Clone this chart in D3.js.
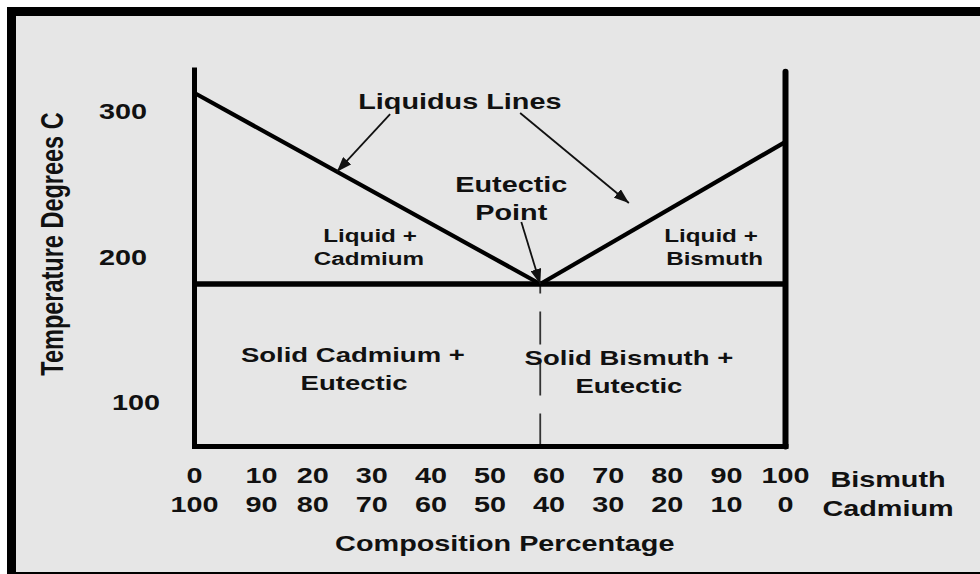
<!DOCTYPE html>
<html>
<head>
<meta charset="utf-8">
<script src="https://cdn.jsdelivr.net/npm/d3@7"></script>
<style>
  html, body { margin: 0; padding: 0; background: #fff; }
  svg { display: block; }
  text { font-family: "Liberation Sans", Arial, sans-serif; font-weight: bold; fill: #111; }
</style>
</head>
<body>
<svg id="chart"></svg>
<script>
// Composition ticks (percent)
var bismuthTicks = [0, 10, 20, 30, 40, 50, 60, 70, 80, 90, 100];
var cadmiumTicks = [100, 90, 80, 70, 60, 50, 40, 30, 20, 10, 0];
var tempTicks = [100, 200, 300];

// Phase diagram, [bismuth %, temperature C]
var eutectic = [58.5, 181.5];
var liquidusLeft = [[0, 312.5], eutectic];
var liquidusRight = [eutectic, [100, 279]];
var wallTops = [330, 327];   // left / right wall tops
var tempMin = 70;

var width = 980,
    height = 574,
    SX = 1.31;   // the original text is stretched sideways

var svg = d3.select("#chart")
    .attr("width", width)
    .attr("height", height);

var x = d3.scaleLinear().domain([0, 100]).range([194.5, 785.5]);
var y = d3.scaleLinear().domain([tempMin, 330]).range([446.5, 67.5]);

// marker for the arrows
svg.append("defs").append("marker")
    .attr("id", "head")
    .attr("viewBox", "0 0 10 10")
    .attr("refX", 10).attr("refY", 5)
    .attr("markerWidth", 15).attr("markerHeight", 11)
    .attr("markerUnits", "userSpaceOnUse")
    .attr("preserveAspectRatio", "none")
    .attr("orient", "auto")
    .append("path")
    .attr("d", "M0,0L10,5L0,10Z")
    .attr("fill", "#111");

// grey panel with thick black frame
svg.append("rect")
    .attr("x", 11.5).attr("y", 11.5)
    .attr("width", 1000).attr("height", 565)
    .attr("fill", "#e6e6e6")
    .attr("stroke", "#000")
    .attr("stroke-width", 9);

function label(px, py, str, size) {
    return svg.append("text")
        .attr("transform", "translate(" + px + "," + py + ") scale(" + SX + ",1)")
        .attr("text-anchor", "middle")
        .style("font-size", size + "px")
        .text(str);
}

var line = d3.line()
    .x(function (d) { return x(d[0]); })
    .y(function (d) { return y(d[1]); });

// dashed eutectic composition line (drawn bottom-up so dashes start at the floor)
svg.append("path")
    .attr("d", line([[eutectic[0], tempMin], eutectic]))
    .attr("stroke", "#333")
    .attr("stroke-width", 1.8)
    .attr("stroke-dasharray", "33,18")
    .attr("fill", "none");

// walls and floor
svg.append("path")
    .attr("d", line([[0, wallTops[0]], [0, tempMin]]) + "M" + (x(0) - 2.5) + "," + y(tempMin) + "H" + (x(100) + 3))
    .attr("stroke", "#000").attr("stroke-width", 5).attr("fill", "none");
svg.append("path")
    .attr("d", line([[100, wallTops[1]], [100, tempMin]]))
    .attr("stroke", "#000").attr("stroke-width", 6)
    .attr("stroke-linecap", "round").attr("fill", "none");

// eutectic horizontal
svg.append("path")
    .attr("d", line([[0, eutectic[1]], [100, eutectic[1]]]))
    .attr("stroke", "#000").attr("stroke-width", 5.5).attr("fill", "none");

// liquidus lines
[liquidusLeft, liquidusRight].forEach(function (seg) {
    svg.append("path")
        .attr("d", line(seg))
        .attr("stroke", "#000").attr("stroke-width", 4.2)
        .attr("stroke-linejoin", "round").attr("fill", "none");
});

// arrows: [from, to] in data units
var arrows = [
    [[33.1, 298], [24.1, 258.5]],
    [[55.1, 298.8], [73.5, 237]],
    [[55.3, 224], eutectic]
];
arrows.forEach(function (a) {
    svg.append("path")
        .attr("d", line(a))
        .attr("stroke", "#111").attr("stroke-width", 1.8)
        .attr("fill", "none")
        .attr("marker-end", "url(#head)");
});

// y tick labels
tempTicks.forEach(function (t) {
    svg.append("text")
        .attr("transform", "translate(" + (x(0) - 47.5 + (t === 100 ? 13 : 0)) + "," + (y(t) + 7.5) + ") scale(" + SX + ",1)")
        .attr("text-anchor", "end")
        .style("font-size", "22px")
        .text(t);
});

// y title
svg.append("text")
    .attr("transform", "translate(63," + ((y(tempMin) + y(330)) / 2 - 13) + ") scale(" + SX + ",1) rotate(-90)")
    .attr("text-anchor", "middle")
    .style("font-size", "23.5px")
    .text("Temperature Degrees C");

// x tick labels, two rows
bismuthTicks.forEach(function (b, i) {
    var px = x(b) + (b === 10 ? 8 : 0);
    label(px, y(tempMin) + 36.5, b, 22);
    label(px, y(tempMin) + 65.5, cadmiumTicks[i], 22);
});
label(x(100) + 102.5, y(tempMin) + 40.5, "Bismuth", 22);
label(x(100) + 102.5, y(tempMin) + 69.5, "Cadmium", 22);
label(x(52.5), y(tempMin) + 104.5, "Composition Percentage", 22);

// annotations
label(x(44.9), y(301.5), "Liquidus Lines", 22);
label(x(53.6), y(244.6), "Eutectic", 22);
label(x(53.6), y(225.4), "Point", 22);

label(x(29.7), y(210.3), "Liquid +", 18.5);
label(x(29.5), y(194.5), "Cadmium", 18.5);
label(x(87.4), y(210.3), "Liquid +", 18.5);
label(x(88), y(194.5), "Bismuth", 18.5);

label(x(26.8), y(128), "Solid Cadmium +", 21);
label(x(27), y(108.8), "Eutectic", 21);
label(x(73.5), y(125.9), "Solid Bismuth +", 21);
label(x(73.5), y(106.7), "Eutectic", 21);
</script>
</body>
</html>
